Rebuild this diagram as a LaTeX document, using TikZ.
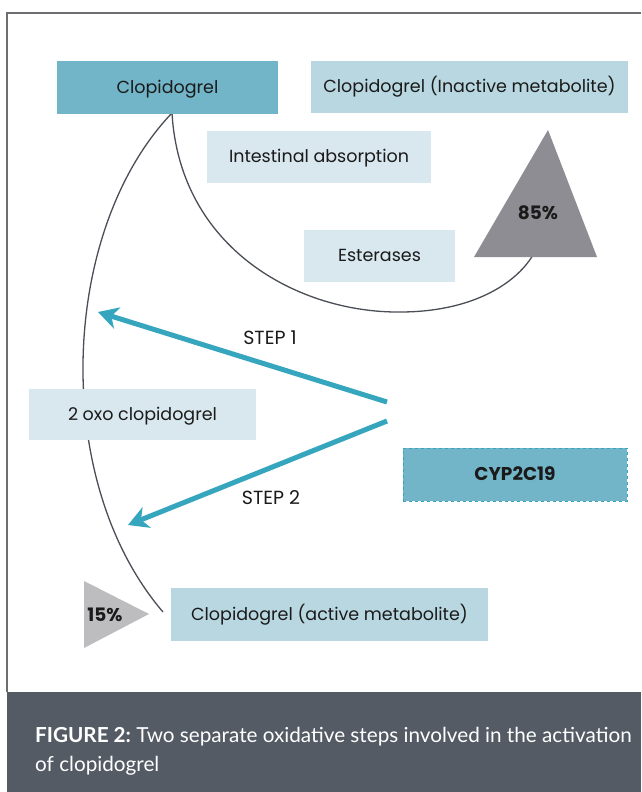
\documentclass[tikz,border=0pt]{standalone}
\usepackage{fontspec}
\setmainfont{Poppins}
\newfontfamily\capfont{Lato}
\usetikzlibrary{arrows.meta}
\definecolor{darkteal}{HTML}{72B5C8}
\definecolor{midblue}{HTML}{B8D7E0}
\definecolor{paleblue}{HTML}{D9E8EF}
\definecolor{arrowteal}{HTML}{36A6BF}
\definecolor{framegray}{HTML}{6E6E72}
\definecolor{bandgray}{HTML}{545B64}
\definecolor{tri85}{HTML}{8E8D93}
\definecolor{tri15}{HTML}{BDBCBE}
\definecolor{curvegray}{HTML}{4A4E56}
\definecolor{txt}{HTML}{1A1A1A}
\tikzset{
  boxbase/.style={minimum height=52pt, inner sep=0pt, text=txt, font=\fontsize{17.5}{20}\selectfont, text height=14pt, text depth=3pt},
  darkbox/.style={boxbase, fill=darkteal},
  midbox/.style={boxbase, fill=midblue},
  palebox/.style={boxbase, fill=paleblue},
  curveline/.style={draw=curvegray, line width=1.3pt},
  steparrow/.style={draw=arrowteal, line width=5pt, -{Stealth[length=20pt,width=22pt,inset=6pt]}},
  steplabel/.style={text=txt, font=\fontsize{19}{22}\selectfont},
  pctlabel/.style={text=txt, font=\fontsize{18.5}{22}\selectfont\bfseries},
}
\begin{document}
\begin{tikzpicture}[x=1pt,y=-1pt]
\useasboundingbox (0,0) rectangle (641,792);
\fill[white] (0,0) rectangle (641,792);
% frame
\draw[framegray, line width=1.4pt] (7,692) -- (7,13) -- (641,13);
% curves (behind boxes)
\coordinate (arcbot) at (400,312);
\coordinate (triend) at (533,255);
\coordinate (actend) at (163,612);
\coordinate (clopbot) at (172,113);
\draw[curveline] (clopbot) .. controls (180,250) and (300,313) .. (arcbot)
  .. controls (470,312) and (515,285) .. (triend);
\draw[curveline] (clopbot) .. controls (60,230) and (50,480) .. (actend);
% boxes
\node[darkbox, minimum width=221pt] (clop) at (167.5,87.5) {Clopidogrel};
\node[midbox, minimum width=317pt] (inact) at (469.5,87) {Clopidogrel (Inactive metabolite)};
\node[palebox, minimum width=224pt] (intest) at (319,157) {Intestinal absorption};
\node[palebox, minimum width=151pt] (ester) at (379.5,255.5) {Esterases};
\node[palebox, minimum width=227pt, minimum height=51pt] (oxo) at (142.5,414.5) {2 oxo clopidogrel};
\node[darkbox, minimum width=224pt, minimum height=53pt, draw=arrowteal, dashed, line width=1pt, font=\fontsize{18.5}{22}\selectfont\bfseries] (cyp) at (515,474.5) {CYP2C19};
\node[midbox, minimum width=317pt, minimum height=53pt] (act) at (329.5,614.5) {Clopidogrel (active metabolite)};
% triangles
\fill[tri85] (548,130) -- (597,257) -- (474,257) -- cycle;
\node[pctlabel] (p85) at (538,213) {85\%};
\fill[tri15] (84,581) -- (149,614) -- (84,648) -- cycle;
\node[pctlabel] (p15) at (105,615) {15\%};
% arrows
\coordinate (s1a) at (387,402);
\coordinate (s1b) at (98,312);
\coordinate (s2a) at (387,421);
\coordinate (s2b) at (128,525);
\draw[steparrow] (s1a) -- (s1b);
\draw[steparrow] (s2a) -- (s2b);
\node[steplabel] (l1) at (270,338) {STEP 1};
\node[steplabel] (l2) at (271,498) {STEP 2};
% caption band
\fill[bandgray] (7,692) rectangle (641,792);
\node[anchor=west, text=white, font=\capfont\fontsize{20.7}{29}\selectfont, align=left, inner sep=0pt] (cap) at (35,751.5)
  {\textbf{FIGURE 2:}~Two separate oxidative steps involved in the activation\\of clopidogrel};
\end{tikzpicture}
\end{document}
